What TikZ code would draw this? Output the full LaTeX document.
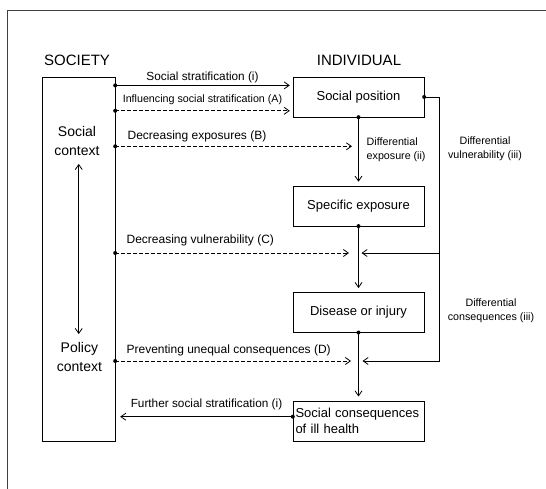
\documentclass[tikz,border=0pt]{standalone}
\usepackage{fontspec}
\setmainfont{Liberation Sans}
\usetikzlibrary{arrows.meta,positioning}

\begin{document}
\begin{tikzpicture}[x=1pt, y=-1pt,
  box/.style={draw, minimum width=131pt, minimum height=40pt, inner sep=2pt, align=center, font=\fontsize{13}{16}\selectfont},
  head/.style={font=\fontsize{15}{18}\selectfont},
  context/.style={align=center, font=\fontsize{14}{18.5}\selectfont},
  lbl/.style={font=\fontsize{12}{14}\selectfont, inner sep=0pt},
  smalllbl/.style={font=\fontsize{10.7}{14}\selectfont, inner sep=0pt, align=center},
  line/.style={line width=0.8pt},
  arrow/.style={-{Straight Barb[length=5pt,width=7pt]}, line width=0.8pt},
  dasharrow/.style={arrow, dash pattern=on 3.5pt off 2.5pt},
  dot/.style={circle, fill, inner sep=0pt, minimum size=4pt}
]
\useasboundingbox (0,0) rectangle (546,489);
\draw[line width=1pt, black!75] (7.7,489) |- (546,11);

% columns
\node[head] (society-head) at (77,60) {SOCIETY};
\node[head] (individual-head) at (359,60) {INDIVIDUAL};
\node[draw, minimum width=72.5pt, minimum height=364pt] (society) at (78.75,259) {};
\node[context] (social) at (77,141) {Social\\context};
\node[context] (policy) at (79.4,357) {Policy\\context};

\node[box] (position) at (358.5,97) {Social position};
\node[box, below=68.5pt of position] (exposure) {Specific exposure};
\node[box, below=66pt of exposure] (disease) {Disease or injury};
\node[box, below=68pt of disease, align=left, text width=126pt, inner xsep=2.5pt] (consequences) {Social consequences\\of ill health};

% junctions
\coordinate (expo) at (position.south |- 0,146.3);
\coordinate (vuln) at (exposure.south |- 0,253);
\coordinate (cons) at (disease.south |- 0,361);
\coordinate (rail) at (439,97);
\coordinate (further) at ([yshift=4pt]consequences.west);

\draw[{Straight Barb[length=5pt,width=7pt]}-{Straight Barb[length=5pt,width=7pt]}, line width=0.8pt] ([yshift=-5pt]society.center |- social.south) -- ([yshift=5pt]society.center |- policy.north);

% society -> individual
\draw[arrow] (society.east |- 0,85.4) node[dot]{} -- node[lbl, above=2.5pt, font=\fontsize{11.8}{14}\selectfont]{Social stratification (i)} ([xshift=-3pt]position.west |- 0,85.4);
\draw[dasharrow] (society.east |- 0,110.8) node[dot]{} -- node[smalllbl, above=6pt]{Influencing social stratification (A)} ([xshift=-3pt]position.west |- 0,110.8);
\draw[dasharrow] (society.east |- expo) node[dot]{} node[lbl, anchor=south west, xshift=12pt, yshift=4pt]{Decreasing exposures (B)} -- ([xshift=-6.5pt]expo);
\draw[dasharrow] (society.east |- vuln) node[dot]{} node[lbl, anchor=south west, xshift=11pt, yshift=7pt]{Decreasing vulnerability (C)} -- ([xshift=-9.5pt]vuln);
\draw[dasharrow] (society.east |- cons) node[dot]{} node[lbl, anchor=south west, xshift=11pt, yshift=5pt]{Preventing unequal consequences (D)} -- ([xshift=-7.5pt]cons);

% individual chain
\draw[arrow] (position.south) node[dot]{} -- ([yshift=4pt]exposure.north);
\draw[arrow] (exposure.south) node[dot]{} -- ([yshift=4pt]disease.north);
\draw[arrow] (disease.south) node[dot]{} -- ([yshift=4pt]consequences.north);
\node[smalllbl, align=left, anchor=west] (expo-label) at ([xshift=8pt, yshift=-3pt]expo) {Differential\\exposure (ii)};

% differential vulnerability / consequences
\draw[arrow] (position.east) node[dot]{} -| (rail |- cons) -- ([xshift=4pt]cons);
\draw[arrow] (rail |- vuln) -- ([xshift=3pt]vuln);
\node[smalllbl] (vuln-label) at (485,149) {Differential\\vulnerability (iii)};
\node[smalllbl] (cons-label) at (491,311) {Differential\\consequences (iii)};

% feedback
\draw[arrow] (further) node[dot]{} -- node[lbl, above=6pt, font=\fontsize{11.8}{14}\selectfont]{Further social stratification (i)} ([xshift=5pt]society.east |- further);
\end{tikzpicture}
\end{document}
